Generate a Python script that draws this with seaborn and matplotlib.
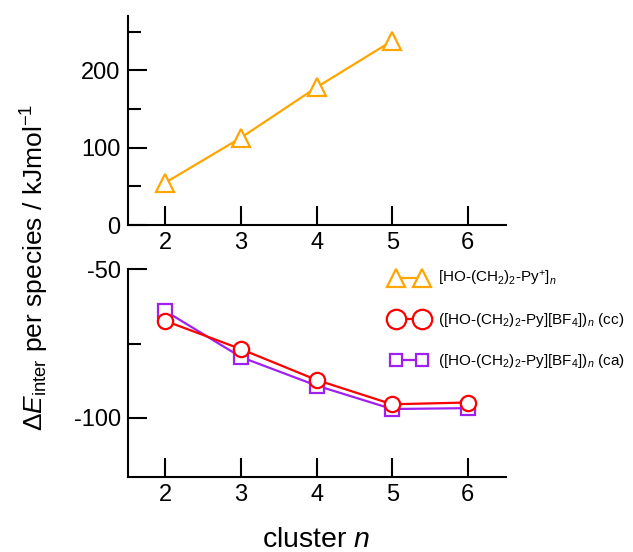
import numpy as np
import pandas as pd
import matplotlib
matplotlib.use("Agg")
import matplotlib.pyplot as plt
from matplotlib.ticker import MultipleLocator
import seaborn as sns

# cluster sizes
n_cation = [2, 3, 4, 5]
n_pair = [2, 3, 4, 5, 6]

# interaction energy per species (kJ/mol)
e_cation = [55, 113, 178, 238]
e_pair_cc = [-67.4, -76.9, -87.3, -95.5, -94.9]
e_pair_ca = [-64.1, -79.6, -89.2, -97.1, -96.8]

labels = [
    r"[HO-(CH$_2$)$_2$-Py$^{+}$]$_n$",
    r"([HO-(CH$_2$)$_2$-Py][BF$_4$])$_n$ (cc)",
    r"([HO-(CH$_2$)$_2$-Py][BF$_4$])$_n$ (ca)",
]
colors = ["#FFA500", "#FF0000", "#A020F0"]

sns.set_style("ticks")
plt.rcParams.update({
    "font.family": ["Liberation Sans", "DejaVu Sans"],
    "mathtext.fontset": "custom",
    "mathtext.rm": "Liberation Sans",
    "mathtext.it": "Liberation Sans:italic",
    "mathtext.bf": "Liberation Sans:bold",
    "axes.linewidth": 1.5,
    "axes.edgecolor": "black",
    "text.color": "black",
    "xtick.color": "black",
    "ytick.color": "black",
    "axes.unicode_minus": False,
})

fig = plt.figure(figsize=(6.33, 5.52), dpi=100)
ax_top = fig.add_axes([0.2017, 0.592, 0.597, 0.379])
ax_bot = fig.add_axes([0.2017, 0.136, 0.597, 0.376])

df_top = pd.DataFrame({"n": n_cation, "E": e_cation})
df_cc = pd.DataFrame({"n": n_pair, "E": e_pair_cc})
df_ca = pd.DataFrame({"n": n_pair, "E": e_pair_ca})

mk = dict(markerfacecolor="white", markeredgewidth=1.6, linewidth=1.6)

sns.lineplot(data=df_top, x="n", y="E", ax=ax_top, color=colors[0],
             marker="^", markersize=13, markeredgecolor=colors[0],
             label=labels[0], legend=False, **mk)
sns.lineplot(data=df_ca, x="n", y="E", ax=ax_bot, color=colors[2],
             marker="s", markersize=10.5, markeredgecolor=colors[2],
             label=labels[2], legend=False, **mk)
sns.lineplot(data=df_cc, x="n", y="E", ax=ax_bot, color=colors[1],
             marker="o", markersize=11, markeredgecolor=colors[1],
             label=labels[1], legend=False, **mk)

for ax in (ax_top, ax_bot):
    sns.despine(ax=ax)
    ax.set_xlim(1.5, 6.5)
    ax.set_xticks([2, 3, 4, 5, 6])
    ax.set_xlabel("")
    ax.set_ylabel("")
    ax.tick_params(axis="both", which="major", direction="in", length=14,
                   width=1.5, labelsize=17, pad=5)
    ax.tick_params(axis="y", which="minor", direction="in", length=9,
                   width=1.5)
    ax.tick_params(axis="x", which="minor", length=0)

ax_top.set_ylim(0, 270)
ax_top.yaxis.set_major_locator(MultipleLocator(100))
ax_top.yaxis.set_minor_locator(MultipleLocator(50))

ax_bot.set_ylim(-120, -50)
ax_bot.yaxis.set_major_locator(MultipleLocator(50))
ax_bot.yaxis.set_minor_locator(MultipleLocator(25))

h_top, _ = ax_top.get_legend_handles_labels()
h_bot, _ = ax_bot.get_legend_handles_labels()
handles = [h_top[0], h_bot[1], h_bot[0]]
leg = fig.legend(handles, labels, loc="upper left",
                 bbox_to_anchor=(0.619, 0.512), frameon=False, fontsize=11,
                 numpoints=2, handlelength=2.3, handletextpad=0.75,
                 labelspacing=1.5, borderpad=0, borderaxespad=0)
for h, ms in zip(leg.legend_handles, [13, 14, 8.5]):
    h.set_markersize(ms)

fig.text(0.055, 0.515,
         r"$\Delta E_{\mathrm{inter}}$ per species / kJmol$^{-1}$",
         rotation=90, ha="center", va="center", fontsize=19)
fig.text(0.50, 0.022, r"cluster $n$", ha="center", va="center", fontsize=20.5)

fig.savefig("out.png", dpi=100)
